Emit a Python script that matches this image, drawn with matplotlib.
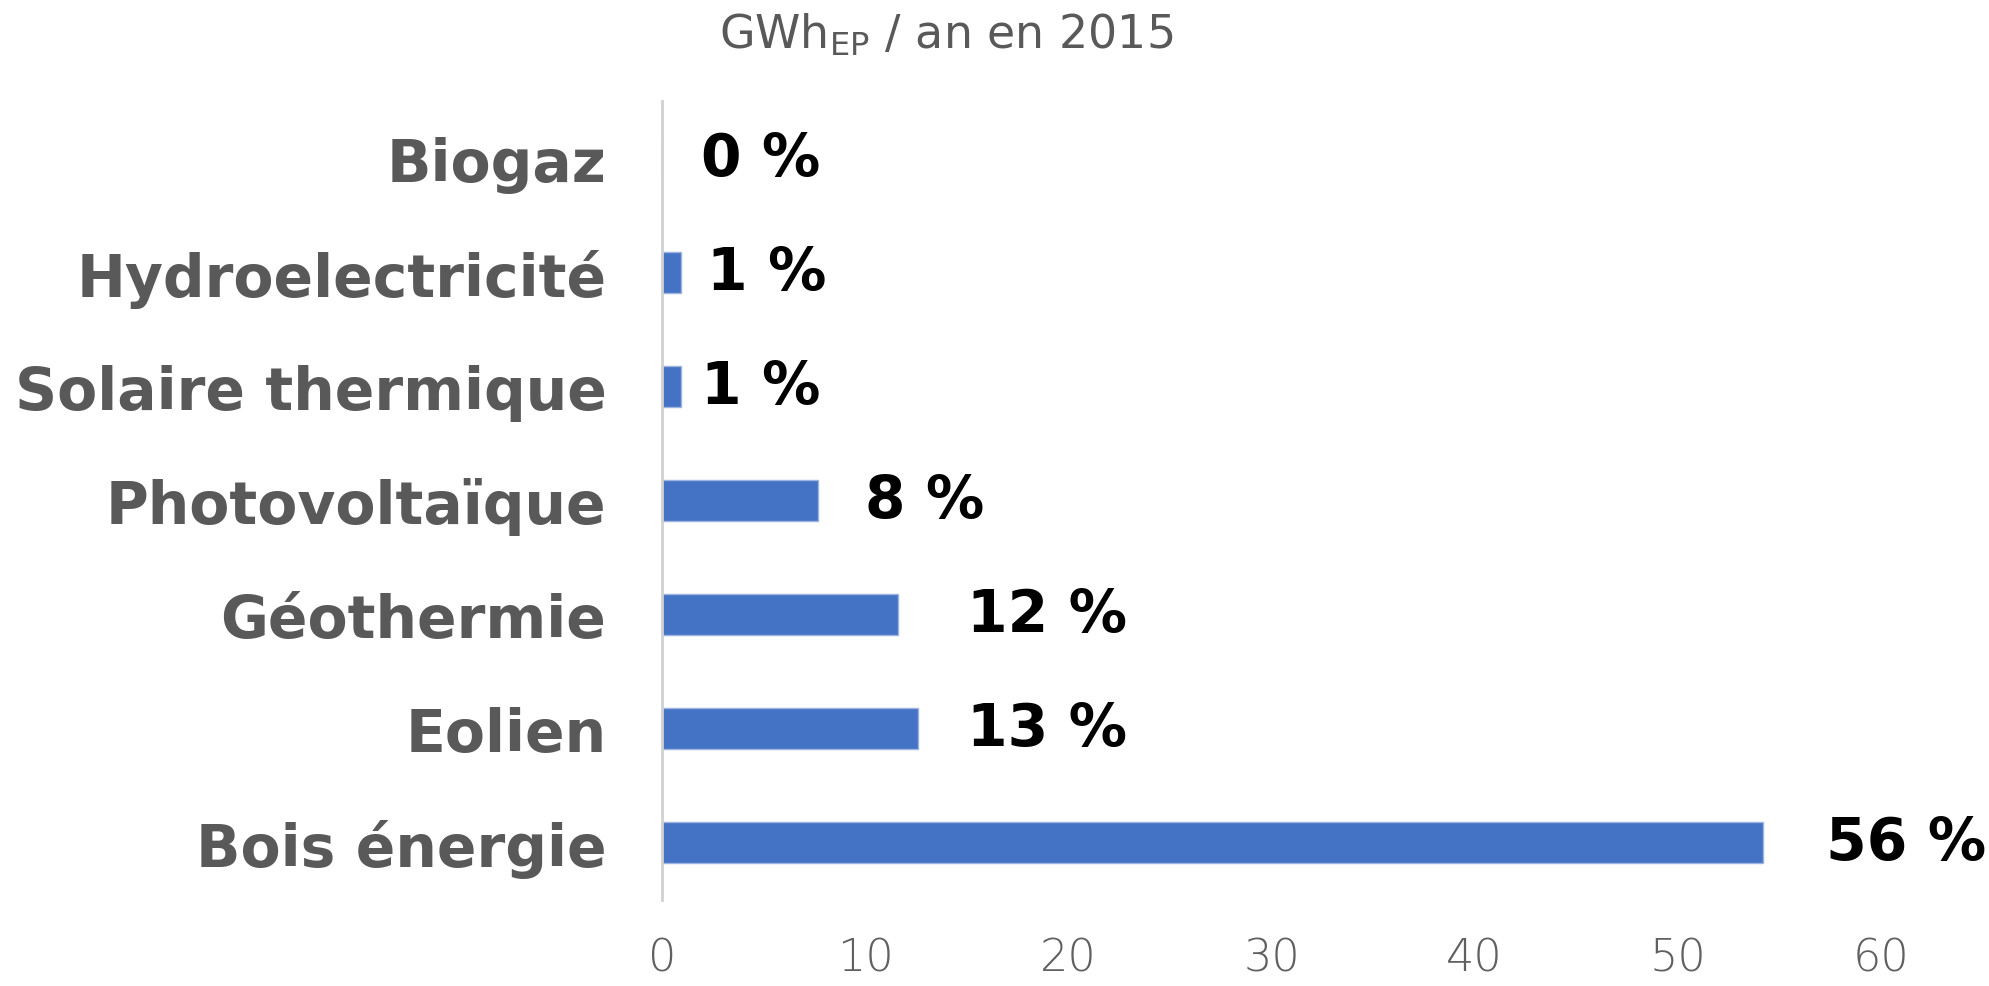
import matplotlib
matplotlib.use("Agg")
import matplotlib.pyplot as plt

plt.rcParams['mathtext.default'] = 'regular'

# data (GWh EP per year, 2015)
categories = ["Biogaz", "Hydroelectricité", "Solaire thermique", "Photovoltaïque",
              "Géothermie", "Eolien", "Bois énergie"]
values = [0.0, 0.95, 0.95, 7.7, 11.6, 12.6, 54.2]
pct_labels = ["0 %", "1 %", "1 %", "8 %", "12 %", "13 %", "56 %"]
# where each data label starts (data units, labels were hand-placed in the source)
label_x = [1.9, 2.2, 1.9, 10.0, 15.0, 15.0, 57.3]

xticks = [0, 10, 20, 30, 40, 50, 60]

bar_color = "#4472C4"
grey = "#595959"

fig = plt.figure(figsize=(19.9, 9.87), dpi=100)
ax = fig.add_axes([662 / 1990, 1 - 901 / 987, (1881 - 662) / 1990, (901 - 102) / 987])

ypos = list(range(len(categories)))
ax.barh(ypos, values, height=0.36, color=bar_color, edgecolor="#9db4e0", linewidth=1)

for y, lx, txt in zip(ypos, label_x, pct_labels):
    ax.text(lx, y, txt, ha="left", va="center", fontsize=42, fontweight="bold",
            color="black", family="DejaVu Sans")

ax.set_ylim(6.5, -0.5)
ax.set_xlim(0, 60)
ax.set_yticks(ypos)
ax.set_yticklabels(categories, fontsize=42, fontweight="bold", color=grey, family="DejaVu Sans")
ax.set_xticks(xticks)
ax.set_xticklabels([str(t) for t in xticks], fontsize=32, color="#606060", family="DejaVu Sans",
                   fontweight="light")
ax.tick_params(axis="y", length=0, pad=40)
ax.tick_params(axis="x", length=0, pad=26)

for side in ["top", "right", "bottom"]:
    ax.spines[side].set_visible(False)
ax.spines["left"].set_color("#d0d0d0")
ax.spines["left"].set_linewidth(2)

fig.text(946 / 1990, 1 - 35 / 987, "GWh$_{EP}$ / an en 2015", ha="center", va="center",
         fontsize=33, color=grey)

fig.savefig("out.png", dpi=100)
